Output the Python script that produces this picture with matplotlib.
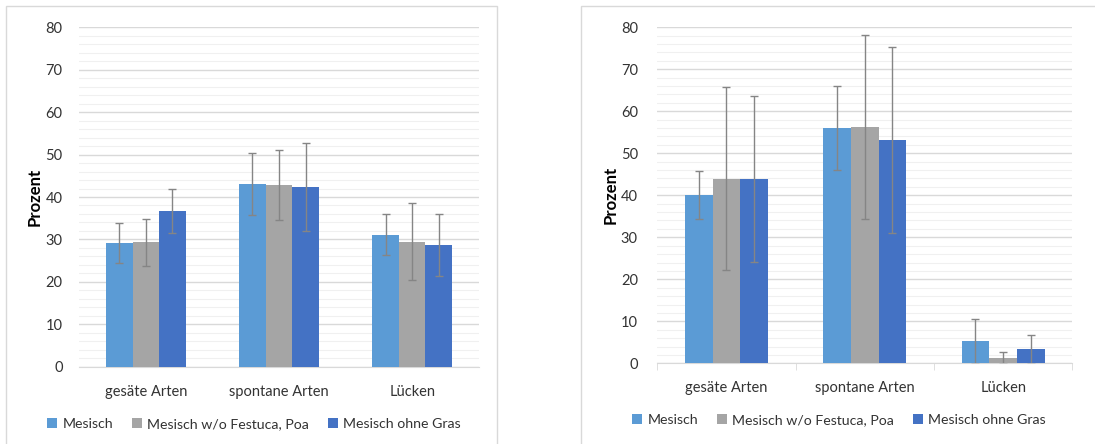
import matplotlib
matplotlib.use("Agg")
import matplotlib.pyplot as plt
import numpy as np
from matplotlib.patches import Rectangle, Patch
from matplotlib.ticker import MultipleLocator

plt.rcParams['font.family'] = ['Lato', 'DejaVu Sans']

categories = ["gesäte Arten", "spontane Arten", "Lücken"]
series_names = ["Mesisch", "Mesisch w/o Festuca, Poa", "Mesisch ohne Gras"]
colors = ["#5B9BD5", "#A5A5A5", "#4472C4"]

# left panel
left_mesisch = [29.1, 43.1, 31.1]
left_wo_festuca = [29.3, 42.8, 29.5]
left_ohne_gras = [36.7, 42.4, 28.7]
left_err_mesisch = [4.7, 7.3, 4.8]
left_err_wo_festuca = [5.5, 8.2, 9.0]
left_err_ohne_gras = [5.3, 10.3, 7.4]

# right panel
right_mesisch = [40.1, 56.0, 5.2]
right_wo_festuca = [43.9, 56.3, 1.3]
right_ohne_gras = [43.9, 53.2, 3.3]
right_err_mesisch = [5.8, 10.0, 5.3]
right_err_wo_festuca = [21.8, 21.9, 1.4]
right_err_ohne_gras = [19.8, 22.1, 3.4]

W, H = 1095, 444
fig = plt.figure(figsize=(W / 100, H / 100), dpi=100)
TXT = "#333333"

def px_axes(x0, y0, x1, y1):
    return fig.add_axes([x0 / W, 1 - y1 / H, (x1 - x0) / W, (y1 - y0) / H])

# panel borders
fig.add_artist(Rectangle((6 / W, -0.1), (497 - 6) / W, 1.1 - 6 / H, transform=fig.transFigure,
                         fill=False, edgecolor="#D9D9D9", linewidth=1.0))
fig.add_artist(Rectangle((581 / W, -0.1), 1.0, 1.1 - 6 / H, transform=fig.transFigure,
                         fill=False, edgecolor="#D9D9D9", linewidth=1.0))

def draw(ax, vals, errs, ticks_on, ypad, xpad):
    x = np.arange(len(categories))
    w = 0.2
    for i, (v, e) in enumerate(zip(vals, errs)):
        ax.bar(x + (i - 1) * w, v, w, color=colors[i], zorder=3, linewidth=0)
        ax.errorbar(x + (i - 1) * w, v, yerr=e, fmt='none', ecolor="#858585",
                    elinewidth=1.0, capsize=3, capthick=1.0, zorder=4)
    ax.set_xlim(-0.5, 2.5)
    ax.set_ylim(0, 80)
    ax.yaxis.set_major_locator(MultipleLocator(10))
    ax.yaxis.set_minor_locator(MultipleLocator(2))
    ax.grid(axis='y', which='major', color="#D9D9D9", linewidth=1.0, zorder=0)
    ax.grid(axis='y', which='minor', color="#F0F0F0", linewidth=0.8, zorder=0)
    ax.set_xticks(x)
    ax.set_xticklabels(categories, fontsize=10.5, color=TXT)
    ax.tick_params(axis='y', length=0, pad=ypad, labelsize=10.5, labelcolor=TXT,
                   which='both')
    for s in ['top', 'right', 'left']:
        ax.spines[s].set_visible(False)
    ax.spines['bottom'].set_color("#D9D9D9")
    ax.spines['bottom'].set_zorder(1)
    if ticks_on:
        ax.set_xticks([-0.5, 0.5, 1.5, 2.5], minor=True)
        ax.tick_params(axis='x', which='minor', length=5, color="#D9D9D9", direction='out')
    else:
        ax.tick_params(axis='x', which='minor', length=0)
    ax.tick_params(axis='x', which='major', length=0, pad=xpad)
    ax.set_ylabel("Prozent", fontsize=12, fontweight='bold', color="#000000")

axL = px_axes(79.3, 27.3, 478.7, 366.7)
draw(axL, [left_mesisch, left_wo_festuca, left_ohne_gras],
     [left_err_mesisch, left_err_wo_festuca, left_err_ohne_gras], False, 12, 13)
axL.yaxis.set_label_coords((43 - 79.3) / (478.7 - 79.3), 0.5)

axR = px_axes(657.3, 27.3, 1072.3, 363.3)
draw(axR, [right_mesisch, right_wo_festuca, right_ohne_gras],
     [right_err_mesisch, right_err_wo_festuca, right_err_ohne_gras], True, 14, 13)
axR.yaxis.set_label_coords((619 - 657.3) / (1072.3 - 657.3), 0.5)

handles = [Patch(facecolor=c, edgecolor='none', label=n) for c, n in zip(colors, series_names)]
for cx, cy in [(254 / W, 1 - 424 / H), (839 / W, 1 - 420 / H)]:
    fig.legend(handles=handles, loc='center', bbox_to_anchor=(cx, cy), ncol=3, frameon=False,
               fontsize=10.2, handlelength=0.7, handleheight=0.7, handletextpad=0.35,
               columnspacing=1.35, labelcolor=TXT)

fig.savefig("out.png", dpi=100)
